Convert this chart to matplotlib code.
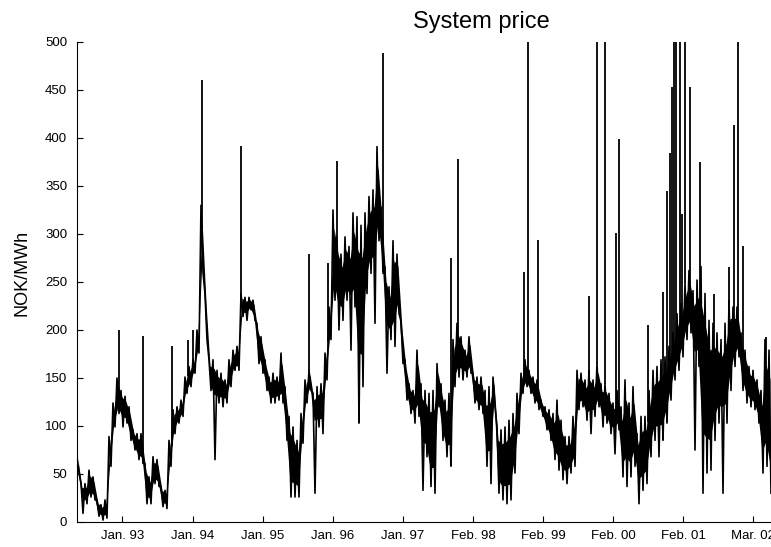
import matplotlib
matplotlib.use("Agg")
import matplotlib.pyplot as plt
import numpy as np

plt.rcParams['font.family'] = ['Liberation Sans', 'DejaVu Sans']

# sampling grid of the price band (decimal years, one sample every ~21 days)
t_start = 1992.351
t_step = 0.05706

# upper / lower edge of the daily price band, NOK/MWh
band_hi = [68, 40, 40, 54, 47, 23, 18, 23, 89, 124, 150, 137, 131, 120, 96, 92, 92, 61, 47, 68,
           65, 37, 33, 85, 117, 120, 127, 151, 162, 169, 200, 330, 238, 169, 169,
           158, 155, 148, 169, 179, 183, 238, 234, 234, 231, 207, 193, 169, 151, 155,
           151, 176, 141, 110, 99, 85, 113, 148, 158, 134, 141, 144, 176, 224, 325,
           297, 279, 297, 287,
           322, 318, 309, 322, 339, 346, 391, 328, 266, 245, 293, 279, 210, 169, 144,
           137, 179, 144, 137, 134, 137, 165, 144, 127, 134, 190, 207, 193, 179, 193,
           155, 151, 151, 137, 141,
           151, 99, 96, 99, 106, 113, 134, 155, 169, 158, 151, 148, 127, 120, 117,
           113, 127, 106, 89, 89, 110, 158, 155, 148, 158, 148, 165, 144, 144, 134,
           124, 137, 120, 148, 124,
           141, 92, 110, 110, 137, 158, 162, 169, 172, 183, 197, 217, 228, 249, 262,
           241, 252, 266, 238, 210, 207, 197, 190, 207, 231, 224, 224, 197, 179, 162,
           158, 148, 137, 190, 179]
band_lo = [51, 9, 19, 26, 23, 6, 2, 4, 58, 99, 113, 99, 103, 85, 75, 65, 61, 19, 19, 40,
           37, 16, 14, 58, 92, 103, 110, 134, 141, 155, 176, 260, 190, 137, 65,
           124, 120, 124, 141, 158, 158, 214, 210, 221, 210, 165, 155, 137, 124, 124,
           127, 124, 85, 26, 26, 26, 82, 124, 137, 30, 99, 92, 148, 190, 231,
           200, 210, 231, 179,
           224, 103, 141, 238, 259, 207, 293, 259, 155, 190, 183, 217, 165, 127, 113,
           103, 110, 33, 68, 37, 30, 120, 85, 68, 58, 141, 151, 148, 151, 155,
           124, 117, 113, 58, 40,
           120, 30, 23, 19, 23, 51, 92, 134, 141, 134, 124, 117, 110, 96, 85,
           65, 54, 44, 40, 51, 58, 117, 120, 106, 92, 110, 120, 99, 103, 92,
           71, 96, 47, 37, 47,
           58, 19, 33, 40, 68, 85, 68, 85, 103, 127, 148, 158, 172, 190, 197,
           75, 162, 30, 51, 54, 85, 103, 30, 103, 137, 162, 172, 137, 124, 120,
           117, 103, 51, 58, 30]

# single-day price spikes
spike_t = [1992.954, 1993.292, 1993.702, 1993.939, 1994.000, 1994.130, 1994.686, 1995.661,
           1995.932, 1996.056, 1996.378, 1996.720, 1997.686, 1997.790, 1998.723, 1998.780,
           1998.923, 1999.650, 1999.769, 1999.883, 2000.044, 2000.078, 2000.501, 2000.710,
           2000.767, 2000.815, 2000.839, 2000.872, 2000.896, 2000.949, 2000.986, 2001.024,
           2001.100, 2001.238, 2001.438, 2001.656, 2001.728, 2001.780, 2001.847, 2002.175]
spike_v = [200, 194, 183, 190, 200, 460, 392, 279,
           270, 376, 103, 489, 275, 378, 260, 500,
           294, 235, 500, 500, 301, 399, 205, 240,
           345, 384, 453, 500, 500, 500, 321, 500,
           453, 375, 237, 266, 414, 500, 287, 193]

tick_years = [1993, 1994, 1995, 1996, 1997, 1998, 1999, 2000, 2001, 2002]
tick_labels = ['Jan. 93', 'Jan. 94', 'Jan. 95', 'Jan. 96', 'Jan. 97',
               'Feb. 98', 'Feb. 99', 'Feb. 00', 'Feb. 01', 'Mar. 02']

hi = np.array(band_hi, dtype=float)
lo = np.array(band_lo, dtype=float)
n = len(hi)
t_grid = t_start + t_step * np.arange(n)

# daily prices swing between the two edges: draw them as a zigzag
xs = np.empty(2 * n)
ys = np.empty(2 * n)
xs[0::2] = t_grid
xs[1::2] = t_grid + t_step / 2
ys[0::2] = hi
ys[1::2] = lo

# solid core of the band: single deep dips are left to the zigzag line
nb = np.minimum(np.r_[lo[0], lo[:-1]], np.r_[lo[1:], lo[-1]])
core_lo = np.maximum(lo, nb)
core_w = hi - core_lo
core_top = hi - 0.2 * core_w
core_bot = core_lo + 0.2 * core_w

fig = plt.figure(figsize=(7.71, 5.47), dpi=100)
# the original chart was cut off on the right, so the axes runs past the figure edge
ax = fig.add_axes([77 / 771, 25 / 547, 808 / 771, 480 / 547])

ax.fill_between(t_grid + t_step / 4, core_bot, core_top, color='black', lw=0)
ax.plot(xs, ys, color='black', lw=1.2)
base = np.interp(spike_t, xs, ys)
ax.vlines(spike_t, base, spike_v, color='black', lw=1.3)

ax.set_xlim(t_start, 2003.877)
ax.set_ylim(0, 500)
ax.set_yticks(np.arange(0, 501, 50))
ax.set_xticks(tick_years)
ax.set_xticklabels(tick_labels)
ax.tick_params(direction='in', length=4, width=0.8, labelsize=9.5)
ax.tick_params(axis='y', pad=7)
ax.tick_params(axis='x', pad=6)
for s in ['top', 'right']:
    ax.spines[s].set_visible(False)
for s in ['left', 'bottom']:
    ax.spines[s].set_linewidth(0.8)

ax.set_title('System price', fontsize=17, pad=10)
fig.text(22 / 771, 1 - 273 / 547, 'NOK/MWh', rotation=90, fontsize=13,
         ha='center', va='center')

fig.savefig('out.png', dpi=100)
